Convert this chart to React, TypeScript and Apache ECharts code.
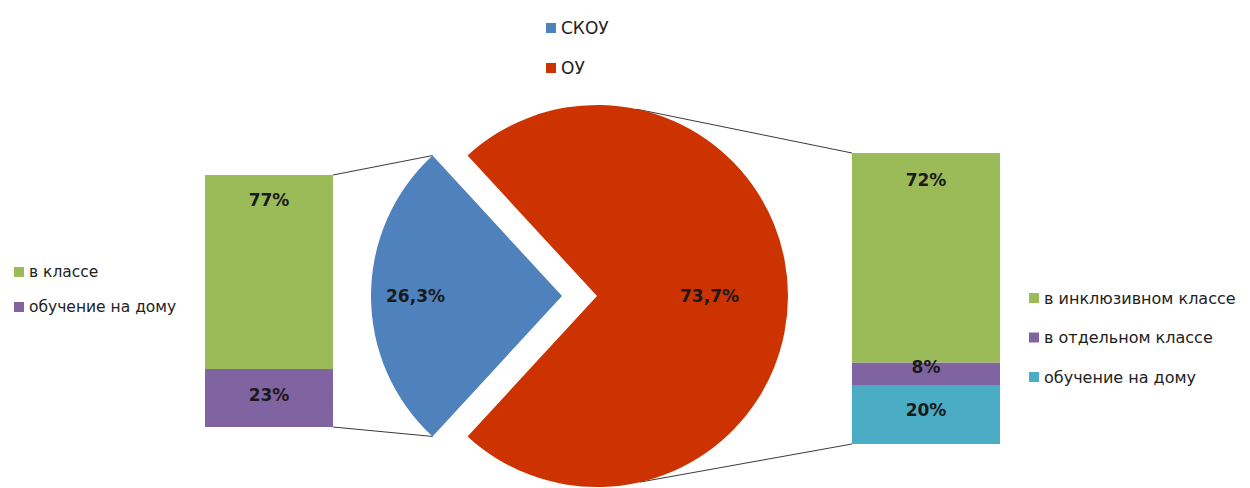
import React, { useEffect, useRef } from "react";
import * as echarts from "echarts";

// ---- data ----
const pieNames = ["СКОУ", "ОУ"];
const pieValues = [26.3, 73.7];
const leftNames = ["в классе", "обучение на дому"];
const leftValues = [77, 23];
const rightNames = ["в инклюзивном классе", "в отдельном классе", "обучение на дому "];
const rightValues = [72, 8, 20];

// ---- styles / layout ----
const PIE_COLORS = ["#4F81BD", "#CC3300"];
const LEFT_COLORS = ["#9BBB59", "#8064A2"];
const RIGHT_COLORS = ["#9BBB59", "#8064A2", "#4BACC6"];
const CENTER = [597, 296];
const R = 191;
const OFFSET = 35;
const LEFT_BAR = { left: 205, top: 175, width: 128, height: 252 };
const RIGHT_BAR = { left: 852, top: 153, width: 148, height: 291 };
const RIGHT_LINE_ANGLES = [78, -77];
const FONT = "DejaVu Sans";
const LABEL_COLOR = "#1a1a1a";

function fmt(v: number) {
  return String(v).replace(".", ",") + "%";
}

export default function App() {
  const ref = useRef<HTMLDivElement>(null);
  useEffect(() => {
    if (!ref.current) return;
    const chart = echarts.init(ref.current, null, { renderer: "svg" });
    const total = pieValues.reduce((a, b) => a + b, 0);
    const blueAngle = (360 * pieValues[0]) / total;
    const startAngle = 180 + blueAngle / 2;
    const tip = [CENTER[0] - OFFSET, CENTER[1]];
    const rad = (d: number) => (d * Math.PI) / 180;
    const blueTop = [tip[0] + R * Math.cos(rad(180 - blueAngle / 2)), tip[1] - R * Math.sin(rad(180 - blueAngle / 2))];
    const blueBot = [tip[0] + R * Math.cos(rad(180 + blueAngle / 2)), tip[1] - R * Math.sin(rad(180 + blueAngle / 2))];
    const redTop = [CENTER[0] + R * Math.cos(rad(RIGHT_LINE_ANGLES[0])), CENTER[1] - R * Math.sin(rad(RIGHT_LINE_ANGLES[0]))];
    const redBot = [CENTER[0] + R * Math.cos(rad(RIGHT_LINE_ANGLES[1])), CENTER[1] - R * Math.sin(rad(RIGHT_LINE_ANGLES[1]))];
    const lineStyle = { stroke: "#3a3a3a", lineWidth: 1 };

    const barLabel = (pos: string, dist: number, off: number[]) => ({
      show: true,
      position: pos,
      distance: dist,
      offset: off,
      formatter: "{c}%",
      fontFamily: FONT,
      fontWeight: "bold",
      fontSize: 17,
      color: LABEL_COLOR,
    });

    // bottom-to-top stacking order: reverse of legend order
    const leftSeries = leftNames
      .map((n, i) => ({
        name: n,
        type: "bar",
        stack: "left",
        xAxisIndex: 0,
        yAxisIndex: 0,
        barWidth: "100%",
        data: [leftValues[i]],
        itemStyle: { color: LEFT_COLORS[i] },
        label: i === 0 ? barLabel("insideTop", 16, [0, 0]) : barLabel("inside", 5, [0, -3]),
        silent: true,
      }))
      .reverse();
    const rightOffsets = [[0, 0], [0, -7], [0, -5]];
    const rightSeries = rightNames
      .map((n, i) => ({
        name: n,
        type: "bar",
        stack: "right",
        xAxisIndex: 1,
        yAxisIndex: 1,
        barWidth: "100%",
        data: [rightValues[i]],
        itemStyle: { color: RIGHT_COLORS[i] },
        label: i === 0 ? barLabel("insideTop", 18, [0, 0]) : barLabel("inside", 5, rightOffsets[i]),
        silent: true,
      }))
      .reverse();

    const legendText = (size: number) => ({
      fontFamily: FONT,
      fontSize: size,
      color: "#222",
      lineHeight: 18,
    });

    chart.setOption({
      animation: false,
      backgroundColor: "#ffffff",
      legend: [
        {
          data: pieNames,
          orient: "vertical",
          left: 541,
          top: 14,
          padding: 5,
          itemGap: 22,
          itemWidth: 10,
          itemHeight: 10,
          icon: "rect",
          textStyle: legendText(17),
          selectedMode: false,
        },
        {
          data: leftNames,
          orient: "vertical",
          left: 9,
          top: 258,
          padding: 5,
          itemGap: 17,
          itemWidth: 10,
          itemHeight: 10,
          icon: "rect",
          textStyle: legendText(15.5),
          selectedMode: false,
        },
        {
          data: rightNames,
          orient: "vertical",
          left: 1024,
          top: 284,
          padding: 5,
          itemGap: 21.5,
          itemWidth: 10,
          itemHeight: 10,
          icon: "rect",
          textStyle: legendText(16),
          selectedMode: false,
        },
      ],
      grid: [
        { left: LEFT_BAR.left, top: LEFT_BAR.top, width: LEFT_BAR.width, height: LEFT_BAR.height },
        { left: RIGHT_BAR.left, top: RIGHT_BAR.top, width: RIGHT_BAR.width, height: RIGHT_BAR.height },
      ],
      xAxis: [
        { type: "category", gridIndex: 0, data: [""], show: false },
        { type: "category", gridIndex: 1, data: [""], show: false },
      ],
      yAxis: [
        { type: "value", gridIndex: 0, min: 0, max: 100, show: false },
        { type: "value", gridIndex: 1, min: 0, max: 100, show: false },
      ],
      graphic: [
        { type: "line", shape: { x1: LEFT_BAR.left + LEFT_BAR.width, y1: LEFT_BAR.top, x2: blueTop[0], y2: blueTop[1] }, style: lineStyle, z: 0 },
        { type: "line", shape: { x1: LEFT_BAR.left + LEFT_BAR.width, y1: LEFT_BAR.top + LEFT_BAR.height, x2: blueBot[0], y2: blueBot[1] }, style: lineStyle, z: 0 },
        { type: "line", shape: { x1: RIGHT_BAR.left, y1: RIGHT_BAR.top, x2: redTop[0], y2: redTop[1] }, style: lineStyle, z: 0 },
        { type: "line", shape: { x1: RIGHT_BAR.left, y1: RIGHT_BAR.top + RIGHT_BAR.height, x2: redBot[0], y2: redBot[1] }, style: lineStyle, z: 0 },
      ],
      series: [
        {
          type: "pie",
          center: CENTER,
          radius: [0, R],
          startAngle,
          clockwise: true,
          selectedMode: "single",
          selectedOffset: OFFSET,
          silent: true,
          emphasis: { disabled: true },
          labelLine: { show: false },
          label: {
            show: true,
            position: "inside",
            formatter: (p: any) => fmt(p.value),
            fontFamily: FONT,
            fontWeight: "bold",
            fontSize: 17,
            color: LABEL_COLOR,
          },
          labelLayout: (p: any) => (p.dataIndex === 0 ? { dx: -48 } : { dx: 14 }),
          data: pieNames.map((n, i) => ({
            name: n,
            value: pieValues[i],
            selected: i === 0,
            itemStyle: { color: PIE_COLORS[i] },
          })),
        },
        ...leftSeries,
        ...rightSeries,
      ],
    } as any);
    return () => chart.dispose();
  }, []);
  return <div ref={ref} style={{ position: "fixed", left: 0, top: 0, width: 1250, height: 488 }} />;
}
